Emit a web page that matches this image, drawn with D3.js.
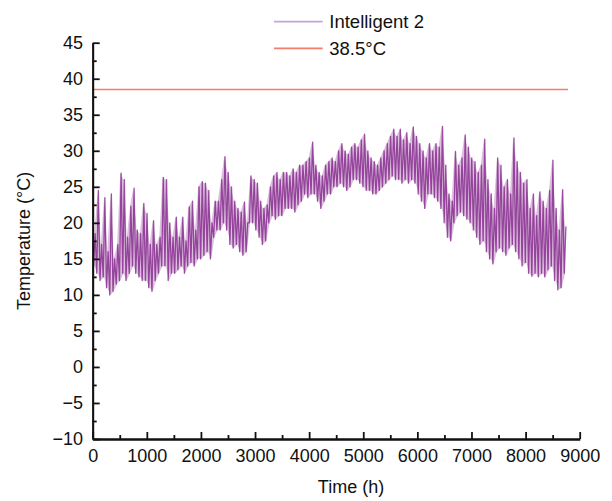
<!DOCTYPE html>
<html>
<head>
<meta charset="utf-8">
<script src="https://cdn.jsdelivr.net/npm/d3@7"></script>
<style>
body { margin: 0; background: #fff; }
svg text { font-family: "Liberation Sans", Arial, sans-serif; font-size: 18px; fill: #111; }
</style>
</head>
<body>
<div id="chart"></div>
<script>
// hourly temperature, as low/high per 60 h period
const stepHours = 60
const periodLow = [
	14, 13, 12, 12.5, 11, 10, 10.5, 11.5, 12, 13,
	12, 13, 14, 13, 12.5, 12, 12, 11, 10.5, 12,
	13, 14, 14, 12, 13, 13, 13.5, 14, 13, 14,
	14.5, 14, 15, 15, 15.5, 16, 15, 18, 19, 19,
	20, 19, 17, 16.5, 17, 16, 15.5, 16, 20, 20,
	19, 18, 17, 17.5, 20, 21, 20.5, 21, 21, 22,
	22, 22, 21.5, 22.5, 23, 24, 23.5, 24, 24, 23,
	22, 23, 24, 24, 25, 25, 25.5, 25, 24.5, 25,
	26, 26, 25.5, 25, 24.5, 24.5, 24, 24, 24.5, 25,
	25.5, 26, 26.5, 26, 26, 25.5, 26, 25.5, 26, 25.5,
	24, 23, 22, 24, 24, 23.5, 23, 22, 20, 18,
	17.5, 20, 21, 21.5, 21, 20.5, 20, 19, 18, 17,
	17.5, 16, 15, 14.3, 16, 16.5, 16, 15.5, 16.5, 17,
	16, 15, 14, 14.5, 13, 12.6, 13, 12.5, 13, 12.5,
	13.5, 14, 12, 10.7, 11, 13
]
const periodHigh = [
	18.5, 24.5, 17, 23.5, 16, 24, 15, 17, 26.9, 26,
	18, 22.3, 24.8, 19, 18.5, 22.7, 21.3, 17, 20.3, 17,
	18, 26.3, 26, 20, 18, 20.8, 18, 20.8, 17.5, 22.2,
	23, 19, 25, 25.7, 25.5, 24.5, 20, 23, 23, 26,
	29.2, 27, 25, 23, 22, 21.5, 22.9, 20, 26.5, 26,
	25.5, 23, 22, 22.5, 25, 26.5, 27, 26, 27, 27,
	26.5, 27.5, 27, 28, 28, 28.5, 29, 31.2, 28, 27,
	26.5, 28, 28.5, 29, 28.5, 30, 31, 30, 29.5, 30.5,
	31, 30.5, 31.5, 32.3, 30, 29, 28.5, 28, 29, 30,
	31, 32, 33, 32, 33, 31.5, 32.5, 31, 33.3, 32,
	31, 30, 29, 31, 30, 31, 30.5, 33.4, 28, 24,
	23, 29.9, 28, 29, 32.2, 30.5, 29, 28.5, 27, 28,
	31.6, 26, 24, 22, 29, 28, 25, 26, 24, 31.8,
	28.5, 27, 25.5, 26, 22, 24, 21, 24.3, 23, 22,
	24.5, 28.7, 22, 19, 24.6, 19.5
]
const thresholdValue = 38.5
const thresholdSpan = [0, 8784]
const xMajor = d3.range(0, 9001, 1000)
const xMinor = d3.range(500, 9000, 1000)
const yMajor = d3.range(-10, 46, 5)
const yMinor = d3.range(-7.5, 45, 5)
const legendItems = [
	{label: 'Intelligent 2', color: '#c7a3d8'},
	{label: '38.5\u00b0C', color: '#f27d6d'}
]

const W = 612, H = 501
const margin = {top: 42.7, right: 32.3, bottom: 62, left: 92.7}

const svg = d3.select('#chart').append('svg')
	.attr('width', W).attr('height', H)
const g = svg.append('g').attr('transform', 'translate(' + [margin.left, margin.top] + ')')
const width = W - margin.left - margin.right
const height = H - margin.top - margin.bottom

const x = d3.scaleLinear().domain([0, 9000]).range([0, width])
const y = d3.scaleLinear().domain([-10, 45]).range([height, 0])

// band between period lows and highs, then zigzag low -> high on top
const area = d3.area()
	.x((d, i) => x(i * stepHours + 30))
	.y0(d => y(d))
	.y1((d, i) => y(periodHigh[i]))
g.append('path')
	.datum(periodLow)
	.attr('d', area)
	.attr('fill', '#aa62ae')
	.attr('fill-opacity', 0.4)

const points = periodLow.flatMap((lo, i) => [
	{t: i * stepHours + 15, v: lo},
	{t: i * stepHours + 45, v: periodHigh[i]}
])
const line = d3.line().x(d => x(d.t)).y(d => y(d.v))

g.append('path')
	.datum(points)
	.attr('d', line)
	.attr('fill', 'none')
	.attr('stroke', '#82248a')
	.attr('stroke-width', 1.3)
	.attr('stroke-opacity', 0.8)
	.attr('stroke-linejoin', 'round')

g.append('path')
	.datum(thresholdSpan)
	.attr('d', d3.line().x(d => x(d)).y(() => y(thresholdValue)))
	.attr('stroke', legendItems[1].color)
	.attr('stroke-width', 1.6)

// axes, ticks pointing inward
function styleAxis(sel) {
	sel.selectAll('path, line').attr('stroke', '#111').attr('stroke-width', 1.8)
}
g.append('g')
	.call(d3.axisLeft(y).tickValues(yMinor).tickSize(-4).tickSizeOuter(0).tickFormat(''))
	.call(styleAxis)
g.append('g')
	.call(d3.axisLeft(y).tickValues(yMajor).tickSize(-7).tickSizeOuter(0).tickPadding(9.7)
		.tickFormat(d => d < 0 ? '\u2212' + Math.abs(d) : d))
	.call(styleAxis)
	.call(a => a.selectAll('text').style('font-size', '18px').attr('font-family', null))

g.append('g')
	.attr('transform', 'translate(0,' + height + ')')
	.call(d3.axisBottom(x).tickValues(xMinor).tickSize(-4).tickSizeOuter(0).tickFormat(''))
	.call(styleAxis)
g.append('g')
	.attr('transform', 'translate(0,' + height + ')')
	.call(d3.axisBottom(x).tickValues(xMajor).tickSize(-7).tickSizeOuter(0).tickPadding(10)
		.tickFormat(d3.format('d')))
	.call(styleAxis)
	.call(a => a.selectAll('text').style('font-size', '18px').attr('font-family', null))

svg.append('text')
	.attr('x', 351).attr('y', 493)
	.attr('text-anchor', 'middle')
	.text('Time (h)')
svg.append('text')
	.attr('transform', 'translate(30,241) rotate(-90)')
	.attr('text-anchor', 'middle')
	.text('Temperature (\u00b0C)')

const legend = svg.append('g').selectAll('g')
	.data(legendItems)
	.enter().append('g')
	.attr('transform', (d, i) => 'translate(274,' + (21.7 + i * 26.6) + ')')
legend.append('line')
	.attr('x1', 0).attr('x2', 48.7)
	.attr('stroke', d => d.color)
	.attr('stroke-width', 1.8)
legend.append('text')
	.attr('x', 55.3).attr('dy', '0.35em')
	.style('font-size', '18.5px')
	.text(d => d.label)
</script>
</body>
</html>
